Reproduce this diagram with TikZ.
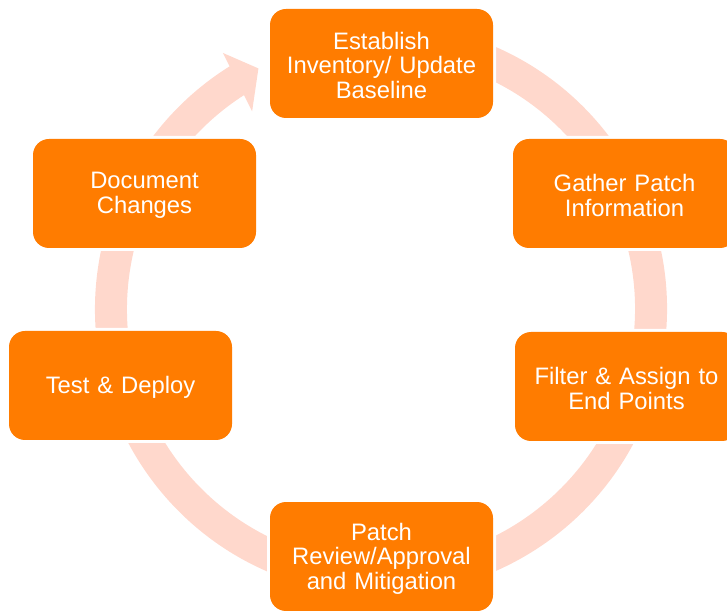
\documentclass[tikz,border=0pt]{standalone}
\usepackage{fontspec}
\setmainfont{Liberation Sans}
\usetikzlibrary{calc}
\definecolor{stepfill}{RGB}{255,124,0}
\definecolor{ringfill}{RGB}{255,216,204}
\begin{document}
\begin{tikzpicture}[x=1pt,y=1pt,
  stepbox/.style={rectangle, rounded corners=16pt, fill=stepfill,
    preaction={draw=white, line width=6pt},
    minimum width=223pt, minimum height=109pt, inner sep=0pt},
  steptext/.style={inner sep=0pt, text width=212pt, align=center, text=white,
    font=\fontsize{23.8}{24.5}\selectfont},
  ring/.style={draw=ringfill, line width=32pt}]
\useasboundingbox (0,0) rectangle (727,610);
\coordinate (c) at (381,301);

% circular arrow running clockwise behind the steps
\draw[ring] ($(c)+(80:270)$) arc[start angle=80, end angle=-238.8, radius=270];
\fill[ringfill] ($(c)+(121.7:301)$) -- ($(c)+(117:270)$) -- ($(c)+(123.1:236)$) -- cycle;

% process step boxes
\node[stepbox] (inv)  at (381.5,546.5) {};
\node[stepbox] (gath) at (624.5,416.5) {};
\node[stepbox] (filt) at (626.5,223.5) {};
\node[stepbox] (rev)  at (381.5,53.5)  {};
\node[stepbox] (test) at (120.5,224.5) {};
\node[stepbox] (doc)  at (144.5,416.5) {};

% step captions, set slightly below each box centre
\node[steptext] (inv-t)  at ($(inv)+(0,-2)$)  {Establish\\Inventory/ Update\\Baseline};
\node[steptext] (gath-t) at ($(gath)+(0,-2)$) {Gather Patch\\Information};
\node[steptext] (filt-t) at ($(filt)+(0,-2)$) {Filter \& Assign to\\End Points};
\node[steptext] (rev-t)  at ($(rev)+(0,-2)$)  {Patch\\Review/Approval\\and Mitigation};
\node[steptext] (test-t) at ($(test)+(0,-2)$) {Test \& Deploy};
\node[steptext] (doc-t)  at ($(doc)+(0,-2)$)  {Document\\Changes};
\end{tikzpicture}
\end{document}
